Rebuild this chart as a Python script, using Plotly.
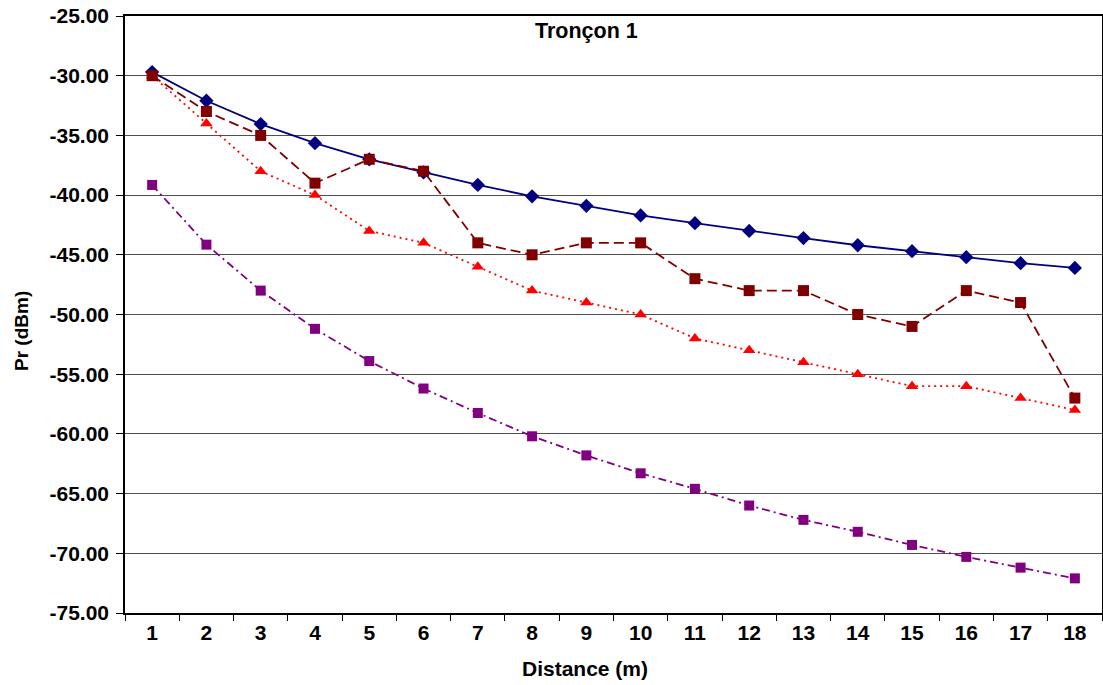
import plotly.graph_objects as go

distance = [str(i) for i in range(1, 19)]
s_blue = [-29.7, -32.1, -34.05, -35.65, -37.0, -38.1, -39.15, -40.1, -40.9, -41.7,
          -42.35, -43.0, -43.6, -44.2, -44.7, -45.2, -45.7, -46.1]
s_darkred = [-30, -33, -35, -39, -37, -38, -44, -45, -44, -44, -47, -48, -48, -50,
             -51, -48, -49, -57]
s_red = [-30, -34, -38, -40, -43, -44, -46, -48, -49, -50, -52, -53, -54, -55,
         -56, -56, -57, -58]
s_purple = [-39.15, -44.15, -48.0, -51.2, -53.9, -56.2, -58.25, -60.2, -61.8, -63.3,
            -64.6, -66.0, -67.2, -68.2, -69.3, -70.3, -71.2, -72.1]
y_ticks = [-25, -30, -35, -40, -45, -50, -55, -60, -65, -70, -75]
y_tick_labels = ["-25.00", "-30.00", "-35.00", "-40.00", "-45.00", "-50.00",
                 "-55.00", "-60.00", "-65.00", "-70.00", "-75.00"]

fig = go.Figure()
fig.add_trace(go.Scatter(x=distance, y=s_purple, mode="lines+markers",
                         line=dict(color="#800080", width=1.8, dash="8px,4px,2px,4px"),
                         marker=dict(symbol="square", size=10, color="#800080")))
fig.add_trace(go.Scatter(x=distance, y=s_red, mode="lines+markers",
                         line=dict(color="#FF0000", width=1.8, dash="2px,4px"),
                         marker=dict(symbol="triangle-up", size=11, color="#FF0000")))
fig.add_trace(go.Scatter(x=distance, y=s_blue, mode="lines+markers",
                         line=dict(color="#000080", width=1.8),
                         marker=dict(symbol="diamond", size=11, color="#000080")))
fig.add_trace(go.Scatter(x=distance, y=s_darkred, mode="lines+markers",
                         line=dict(color="#800000", width=1.8, dash="10px,5px"),
                         marker=dict(symbol="square", size=11, color="#800000")))

font_bold = "Liberation Sans"
W, H = 1103, 685
L, R, T, B = 125, 1, 16, 72
fig.update_layout(
    width=W, height=H,
    margin=dict(l=L, r=R, t=T, b=B, autoexpand=False),
    paper_bgcolor="white", plot_bgcolor="white",
    showlegend=False,
    font=dict(family=font_bold, color="black", size=21),
    xaxis=dict(type="category", tickson="boundaries", ticks="outside", ticklen=6,
               tickcolor="black", showline=True, linecolor="black", linewidth=1.5,
               mirror=True, showgrid=False, range=[-0.5, 17.5], automargin=False,
               tickvals=distance, ticktext=["<b>%s</b>" % d for d in distance],
               ticklabeloverflow="allow",
               tickfont=dict(family=font_bold, size=21)),
    yaxis=dict(range=[-75, -25], tickvals=y_ticks,
               ticktext=["<b>%s</b>" % t for t in y_tick_labels],
               ticks="outside", ticklen=7, tickcolor="black", automargin=False,
               showline=True, linecolor="black", linewidth=1.5, mirror=True,
               showgrid=True, gridcolor="#505050", gridwidth=1, zeroline=False,
               ticklabelstandoff=3, ticklabeloverflow="allow",
               tickfont=dict(family=font_bold, size=21)),
)
plot_w = W - L - R
plot_h = H - T - B
def px(x):
    return (x - L) / plot_w
def py(y):
    return (H - B - y) / plot_h
fig.add_annotation(text="<b>Tronçon 1</b>", x=px(586), y=py(31), xref="paper", yref="paper",
                   showarrow=False, font=dict(size=21.5, family=font_bold),
                   xanchor="center", yanchor="middle")
fig.add_annotation(text="<b>Distance (m)</b>", x=px(585), y=py(668), xref="paper", yref="paper",
                   showarrow=False, font=dict(size=21, family=font_bold),
                   xanchor="center", yanchor="middle")
fig.add_annotation(text="<b>Pr (dBm)</b>", x=px(21), y=py(331), xref="paper", yref="paper",
                   showarrow=False, font=dict(size=19, family=font_bold), textangle=-90,
                   xanchor="center", yanchor="middle")

# remove the default 8px page margin so the figure sits at the window's top-left corner
fig.write_html("out.html", config={"displayModeBar": False},
               post_script="document.body.style.margin='0';")
